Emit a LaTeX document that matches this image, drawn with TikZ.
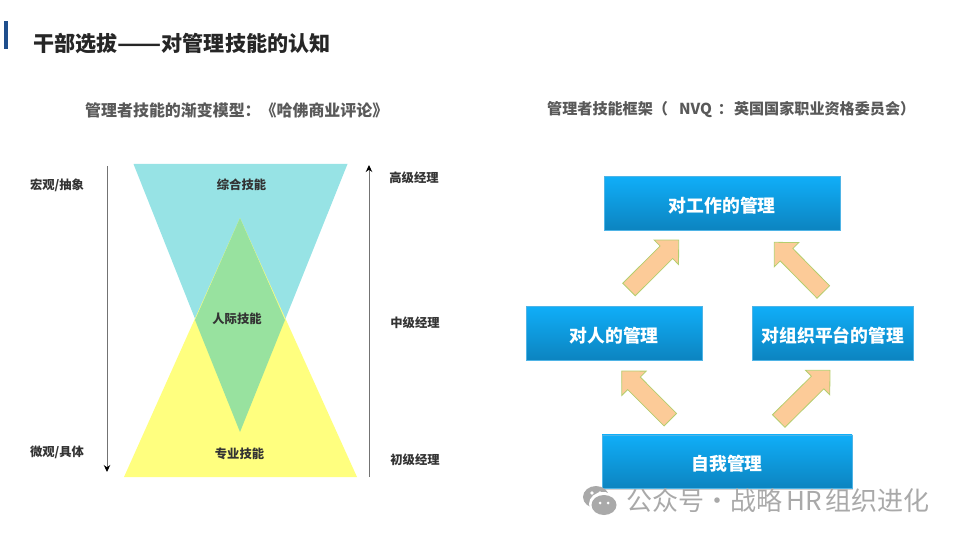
\documentclass[tikz,border=0pt]{standalone}
\usepackage{fontspec}
\setmainfont{Noto Sans CJK SC}
\usepackage{xcolor}
\usetikzlibrary{shapes,arrows.meta,positioning,calc,shadows}
\definecolor{barblue}{HTML}{1F4E8C}
\definecolor{titleink}{HTML}{262626}
\definecolor{subink}{HTML}{595959}
\definecolor{topblue}{HTML}{97E3E5}
\definecolor{midgreen}{HTML}{98E29F}
\definecolor{lowyellow}{HTML}{FFFF7F}
\definecolor{boxtop}{HTML}{10AEF8}
\definecolor{boxlow}{HTML}{0C84C0}
\definecolor{boxedge}{HTML}{4FB4E6}
\definecolor{arrowfill}{HTML}{FCCB98}
\definecolor{arrowedge}{HTML}{B4CE6E}
\definecolor{markgrey}{HTML}{A9A9A9}

\begin{document}
\begin{tikzpicture}[
  x=1pt, y=-1pt,
  title/.style={font=\fontsize{21.1}{24}\selectfont\bfseries, text=titleink, anchor=west, inner sep=0pt},
  subtitle/.style={text=subink, anchor=west, inner sep=0pt},
  label/.style={font=\fontsize{12.3}{14}\selectfont\bfseries, text=black!80, inner sep=0pt},
  mgmtbox/.style={draw=boxedge, line width=0.5pt, top color=boxtop, bottom color=boxlow, text=white, font=\fontsize{17.8}{20}\selectfont\bfseries, minimum height=53.5pt, inner sep=0pt, text height=18pt, text depth=0pt, drop shadow={shadow xshift=0.8pt, shadow yshift=-1.5pt, opacity=0.35}},
  scale axis/.style={black!55, line width=1pt, -{Stealth[length=7pt, width=6.5pt, black]}},
  blockarrow/.style={draw=arrowedge, fill=arrowfill, line width=0.8pt, line join=miter, to path={
    coordinate (neck) at ($(\tikztotarget)!17.4pt!(\tikztostart)$)
    ($(\tikztostart)!8.85pt!90:(\tikztotarget)$)
    -- ($(neck)!8.85pt!90:(\tikztotarget)$)
    -- ($(neck)!17.25pt!90:(\tikztotarget)$)
    -- (\tikztotarget)
    -- ($(neck)!17.25pt!-90:(\tikztotarget)$)
    -- ($(neck)!8.85pt!-90:(\tikztotarget)$)
    -- ($(\tikztostart)!8.85pt!-90:(\tikztotarget)$)
    -- cycle}}
]
\useasboundingbox (0,0) rectangle (960,540);

% ---- Heading ----
\fill[barblue] (3.5,21) rectangle (7.5,49);
\node[title] (heading) at (33,43.5) {干部选拔\scalebox{1.22}[1]{——}对管理技能的认知};
\node[subtitle, font=\fontsize{15.95}{18}\selectfont\bfseries] (leftsub) at (85,110) {管理者技能的渐变模型^^^^ff1a《哈佛商业评论》};
\node[subtitle, font=\fontsize{15.1}{18}\selectfont\bfseries] (rightsub) at (547,110) {管理者技能框架^^^^ff08\hspace{11pt}NVQ\hspace{6pt}^^^^ff1a\hspace{1pt}英国国家职业资格委员会^^^^ff09};

% ---- Hourglass ----
\fill[topblue] (133.5,164) -- (347.5,164) -- (240,432) -- cycle;
\fill[lowyellow] (124,477) -- (357,477) -- (240,218) -- cycle;
\fill[midgreen] (240,218) -- (285,320) -- (240,432) -- (195,320) -- cycle;

\node[label] (general) at (241.5,184.5) {综合技能};
\node[label] (people) at (237,318.5) {人际技能};
\node[label] (special) at (239.5,453.5) {专业技能};

\node[label] (macro) at (57,185) {宏观/抽象};
\node[label] (micro) at (57,452.5) {微观/具体};
\node[label] (senior) at (414,177.7) {高级经理};
\node[label] (middle) at (415,322.7) {中级经理};
\node[label] (junior) at (415,459.7) {初级经理};

\coordinate (macroend) at (107,166);
\coordinate (microend) at (107,472);
\coordinate (juniorend) at (369,477);
\coordinate (seniorend) at (369,165);
\draw[scale axis] (macroend) -- (microend);
\draw[scale axis] (juniorend) -- (seniorend);

% ---- Management boxes ----
\node[mgmtbox, minimum width=235.5pt] (work) at (722.2,203.2) {对工作的管理};
\node[mgmtbox, minimum width=175.5pt] (others) at (614.2,333) {对人的管理};
\node[mgmtbox, minimum width=161.5pt] (platform) at (832.8,333) {对组织平台的管理};
\node[mgmtbox, minimum width=250pt] (self) at (727,461.5) {自我管理};

% ---- Block arrows ----
\coordinate (tailA) at (629,289.5);
\coordinate (tipA) at (678.7,240);
\coordinate (tailB) at (823.3,292);
\coordinate (tipB) at (774.3,242.3);
\coordinate (tailC) at (670.3,419.7);
\coordinate (tipC) at (621.7,371);
\coordinate (tailD) at (778.7,421);
\coordinate (tipD) at (830,370.3);
\draw[blockarrow] (tailA) to (tipA);
\draw[blockarrow] (tailB) to (tipB);
\draw[blockarrow] (tailC) to (tipC);
\draw[blockarrow] (tailD) to (tipD);

% ---- Watermark ----
\fill[markgrey] (596,497) ellipse (13 and 11);
\fill[white] (603,504) ellipse (14 and 12);
\fill[markgrey] (604,505) ellipse (12.5 and 10);
\fill[white] (592,493) circle (1.8) (600,493) circle (1.8) (600,503) circle (1.5) (608,503) circle (1.5);
\node[font=\fontsize{26}{28}\selectfont, text=markgrey, anchor=west, inner sep=0pt] (wmark) at (626,501) {公众号·战略\hspace{4pt}HR\hspace{4pt}组织进化};

\end{tikzpicture}
\end{document}
